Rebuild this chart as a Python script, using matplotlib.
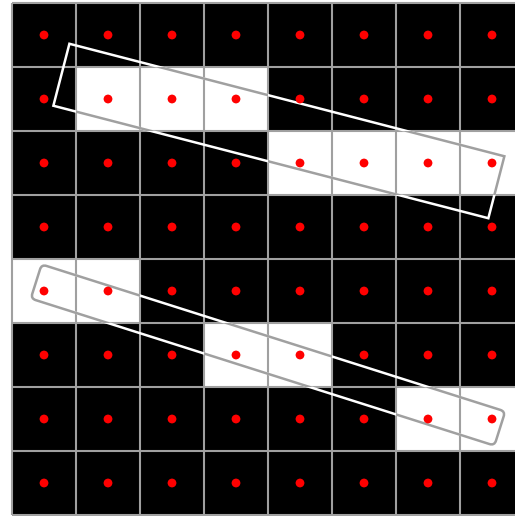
import matplotlib
matplotlib.use("Agg")
import matplotlib.pyplot as plt
from matplotlib.patches import Rectangle, FancyBboxPatch
from matplotlib.transforms import Affine2D, Bbox, TransformedBbox

# 8x8 binary image, 1 = white pixel
n_rows = 8
n_cols = 8
white_rows = [1, 1, 1, 2, 2, 2, 2, 4, 4, 5, 5, 6, 6]
white_cols = [1, 2, 3, 4, 5, 6, 7, 0, 1, 3, 4, 6, 7]

# fitted boxes around each line segment: center x, center y, length, width, angle
box1 = dict(cx=4.17, cy=2.0, length=7.02, width=1.0, angle=14.5)
box2 = dict(cx=4.0, cy=5.5, length=7.6, width=0.56, angle=17.6)

GRID = "#a0a0a0"

fig = plt.figure(figsize=(5.15, 5.16), dpi=100)
ax = fig.add_axes([0, 0, 1, 1])
ax.set_xlim(-12 / 64, 503 / 64)
ax.set_ylim(513 / 64, -3 / 64)
ax.axis("off")

white = set(zip(white_rows, white_cols))
for r in range(n_rows):
    for c in range(n_cols):
        fc = "white" if (r, c) in white else "black"
        ax.add_patch(Rectangle((c, r), 1, 1, facecolor=fc, edgecolor="none", zorder=1))

for k in range(n_cols + 1):
    ax.plot([k, k], [0, n_rows], color=GRID, lw=1.5, zorder=2, solid_capstyle="butt")
for k in range(n_rows + 1):
    ax.plot([0, n_cols], [k, k], color=GRID, lw=1.5, zorder=2, solid_capstyle="butt")


def make_box(b, color, rounded=False):
    x0 = b["cx"] - b["length"] / 2
    y0 = b["cy"] - b["width"] / 2
    rot = Affine2D().rotate_deg_around(b["cx"], b["cy"], b["angle"]) + ax.transData
    if rounded:
        p = FancyBboxPatch((x0, y0), b["length"], b["width"],
                           boxstyle="round,pad=0,rounding_size=0.08",
                           facecolor="none", edgecolor=color, lw=1.8, zorder=3)
    else:
        p = Rectangle((x0, y0), b["length"], b["width"],
                      facecolor="none", edgecolor=color, lw=1.8, zorder=3)
    p.set_transform(rot)
    return p


for b, rnd in [(box1, False), (box2, True)]:
    ax.add_patch(make_box(b, "white", rnd))
    # over white pixels the outline shows grey
    for (r, c) in white:
        p = make_box(b, GRID, rnd)
        p.set_zorder(4)
        ax.add_patch(p)
        p.set_clip_box(TransformedBbox(Bbox.from_bounds(c, r, 1, 1), ax.transData))

xs = [c + 0.5 for r in range(n_rows) for c in range(n_cols)]
ys = [r + 0.5 for r in range(n_rows) for c in range(n_cols)]
ax.scatter(xs, ys, s=40, color="red", edgecolors="none", zorder=5)

fig.savefig("out.png", dpi=100)
